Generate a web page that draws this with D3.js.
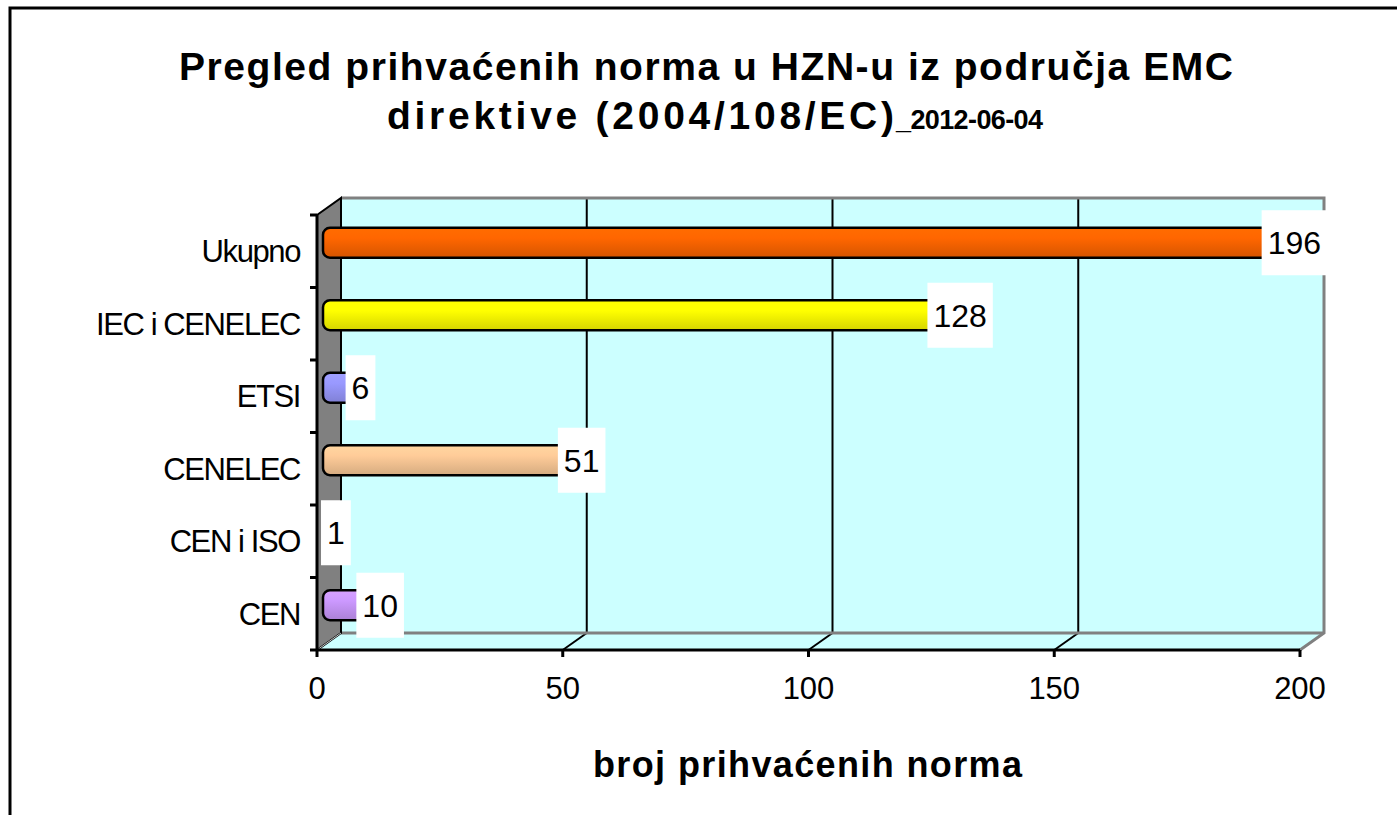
<!DOCTYPE html>
<html><head><meta charset="utf-8">
<script src="https://cdn.jsdelivr.net/npm/d3@7/dist/d3.min.js"></script>
<style>body{margin:0;background:#fff}svg{display:block}</style>
</head><body><svg id="c" width="1397" height="815"></svg>
<script>
const categories = ["CEN", "CEN i ISO", "CENELEC", "ETSI", "IEC i CENELEC", "Ukupno"];
const values = [10, 1, 51, 6, 128, 196];
const barColors = ["#CC99FF", "#CC99FF", "#FFCC99", "#9999FF", "#FFFF00", "#FF6600"];
const xTicks = [0, 50, 100, 150, 200];
const titleLine1 = "Pregled prihvaćenih norma u HZN-u iz područja EMC";
const titleLine2a = "direktive (2004/108/EC)";
const titleLine2b = "_2012-06-04";
const xAxisTitle = "broj prihvaćenih norma";

const svg = d3.select("#c");
const font = "'Liberation Sans', Arial, sans-serif";
const DX = 24, DY = -17;

const x = d3.scaleLinear().domain([0, 200]).range([317, 1300]);
const y = d3.scaleBand().domain(categories.slice().reverse()).range([215, 650]).padding(0);
const y0 = 650, yTop = 215;

// outer border
svg.append("rect").attr("x", 10).attr("y", 8).attr("width", 1400).attr("height", 820)
  .attr("fill", "#fff").attr("stroke", "#000").attr("stroke-width", 3);

// titles
svg.append("text").attr("x", 179).attr("y", 80).attr("font-family", font).attr("font-weight", "bold")
  .attr("font-size", 39).attr("textLength", 1054).attr("lengthAdjust", "spacing").text(titleLine1);
svg.append("text").attr("x", 387).attr("y", 129).attr("font-family", font).attr("font-weight", "bold")
  .attr("font-size", 39).attr("textLength", 507).attr("lengthAdjust", "spacing").text(titleLine2a);
svg.append("text").attr("x", 896).attr("y", 129).attr("font-family", font).attr("font-weight", "bold")
  .attr("font-size", 27).attr("textLength", 147).attr("lengthAdjust", "spacing").text(titleLine2b);

// back wall
const bx0 = x(0) + DX, bx1 = x(200) + DX, by0 = yTop + DY, by1 = y0 + DY;
svg.append("rect").attr("x", bx0).attr("y", by0).attr("width", bx1 - bx0).attr("height", by1 - by0)
  .attr("fill", "#CCFFFF");
// floor
svg.append("path").attr("d", `M${x(0)},${y0} L${x(200)},${y0} L${bx1},${by1} L${bx0},${by1} Z`)
  .attr("fill", "#CCFFFF");
// gridlines on back wall + floor diagonals
xTicks.slice(1, -1).forEach(t => {
  svg.append("line").attr("x1", x(t) + DX).attr("x2", x(t) + DX).attr("y1", by0).attr("y2", by1)
    .attr("stroke", "#000").attr("stroke-width", 2);
  svg.append("line").attr("x1", x(t)).attr("y1", y0).attr("x2", x(t) + DX).attr("y2", by1)
    .attr("stroke", "#000").attr("stroke-width", 2);
});
// back wall gray edges
svg.append("path").attr("d", `M${bx0},${by0} L${bx1},${by0} L${bx1},${by1} L${x(200)},${y0}`)
  .attr("fill", "none").attr("stroke", "#808080").attr("stroke-width", 3);
svg.append("line").attr("x1", bx0).attr("x2", bx1).attr("y1", by1).attr("y2", by1)
  .attr("stroke", "#808080").attr("stroke-width", 3);
// left wall
svg.append("path").attr("d", `M${x(0)},${yTop} L${bx0},${by0} L${bx0},${by1} L${x(0)},${y0} Z`)
  .attr("fill", "#808080").attr("stroke", "#000").attr("stroke-width", 2);
svg.append("line").attr("x1", x(0)).attr("y1", y0).attr("x2", bx0).attr("y2", by1)
  .attr("stroke", "#c8c8c8").attr("stroke-width", 1);

// axes lines
svg.append("line").attr("x1", x(0)).attr("x2", x(0)).attr("y1", yTop).attr("y2", y0 + 1)
  .attr("stroke", "#000").attr("stroke-width", 3);
svg.append("line").attr("x1", x(0) - 1).attr("x2", x(200)).attr("y1", y0).attr("y2", y0)
  .attr("stroke", "#000").attr("stroke-width", 3);

// left ticks at band boundaries
const bounds = categories.map(c => y(c)).concat([y0]);
bounds.forEach(b => {
  svg.append("line").attr("x1", x(0) - 7).attr("x2", x(0)).attr("y1", b).attr("y2", b)
    .attr("stroke", "#000").attr("stroke-width", 3);
});
// bottom ticks and labels
xTicks.forEach(t => {
  svg.append("line").attr("x1", x(t)).attr("x2", x(t)).attr("y1", y0).attr("y2", y0 + 7)
    .attr("stroke", "#000").attr("stroke-width", 3);
  svg.append("text").attr("x", x(t)).attr("y", 699).attr("text-anchor", "middle")
    .attr("font-family", font).attr("font-size", 31).text(t);
});

// category labels
categories.forEach(c => {
  svg.append("text").attr("x", 300).attr("y", y(c) + y.bandwidth() / 2 + 11)
    .attr("text-anchor", "end").attr("font-family", font).attr("font-size", 31)
    .attr("letter-spacing", "-1.4").text(c);
});

// gradients
const defs = svg.append("defs");
categories.forEach((c, i) => {
  const base = d3.color(barColors[i]);
  const g = defs.append("linearGradient").attr("id", "g" + i).attr("x1", 0).attr("y1", 0).attr("x2", 0).attr("y2", 1);
  g.append("stop").attr("offset", "0").attr("stop-color", base.brighter(0.15));
  g.append("stop").attr("offset", "0.35").attr("stop-color", base);
  g.append("stop").attr("offset", "1").attr("stop-color", base.darker(0.5));
});

// bars
const BH = 30;
categories.forEach((c, i) => {
  const cy = y(c) + y.bandwidth() / 2 + DY / 2;
  const xs = x(0) + 6, xe = x(values[i]) + DX / 2;
  svg.append("rect").attr("x", xs).attr("y", cy - BH / 2).attr("width", Math.max(0, xe - xs)).attr("height", BH)
    .attr("rx", 7).attr("ry", 7)
    .attr("fill", `url(#g${i})`).attr("stroke", "#000").attr("stroke-width", 2.5);
});

// data labels
categories.forEach((c, i) => {
  const cy = y(c) + y.bandwidth() / 2 + DY / 2;
  const cx = x(values[i]) + DX / 2 + 2;
  const t = svg.append("text").attr("x", cx).attr("y", cy + 11.5).attr("text-anchor", "middle")
    .attr("font-family", font).attr("font-size", 32).text(values[i]);
  const w = t.node().getComputedTextLength() + 12;
  svg.insert("rect", () => t.node()).attr("x", cx - w / 2).attr("y", cy - 32.5).attr("width", w).attr("height", 65)
    .attr("fill", "#fff");
});

// x axis title
svg.append("text").attr("x", 593).attr("y", 777).attr("font-family", font).attr("font-weight", "bold")
  .attr("font-size", 36).attr("textLength", 429).attr("lengthAdjust", "spacing").text(xAxisTitle);
</script></body></html>
